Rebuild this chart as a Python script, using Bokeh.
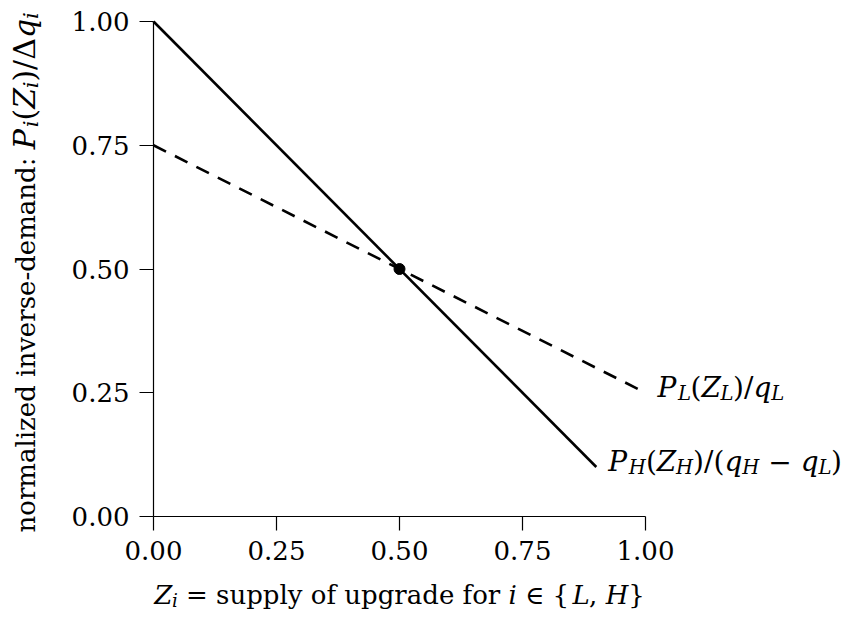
import math
from bokeh.plotting import figure
from bokeh.models import Label, FixedTicker, Range1d
from bokeh.embed import file_html
from bokeh.resources import INLINE

# ---- data ----
z_high = [0.0, 0.9]
p_high = [1.0, 0.1]
z_low = [0.0, 1.0]
p_low = [0.75, 0.25]
eq_z = [0.5]
eq_p = [0.5]
x_ticks = [0.0, 0.25, 0.5, 0.75, 1.0]
y_ticks = [0.0, 0.25, 0.5, 0.75, 1.0]
tick_labels = ["0.00", "0.25", "0.50", "0.75", "1.00"]

FONT = "DejaVu Serif"
TICK_SIZE = 26
LAB_SIZE = 26
MATH_SIZE = 28
YMATH_SIZE = 30

# canvas layout (pixels)
CW, CH = 849, 620
PX_LEFT, PX_RIGHT = 153, 645   # where x=0 and x=1 fall
PX_TOP, PX_BOTTOM = 21, 516    # where y=1 and y=0 fall

x0, x1 = x_ticks[0], x_ticks[-1]
y0, y1 = y_ticks[0], y_ticks[-1]
sx = (PX_RIGHT - PX_LEFT) / (x1 - x0)
sy = (PX_BOTTOM - PX_TOP) / (y1 - y0)
xr = Range1d(x0 - PX_LEFT / sx, x1 + (CW - PX_RIGHT) / sx)
yr = Range1d(y0 - (CH - PX_BOTTOM) / sy, y1 + PX_TOP / sy)

p = figure(width=CW, height=CH, output_backend="svg", toolbar_location=None,
           x_range=xr, y_range=yr,
           min_border_left=0, min_border_right=0, min_border_top=0, min_border_bottom=0)
p.outline_line_color = None
p.grid.visible = False
p.background_fill_color = "white"

for ax, ticks, lo, hi in ((p.xaxis[0], x_ticks, x0, x1), (p.yaxis[0], y_ticks, y0, y1)):
    ax.ticker = FixedTicker(ticks=ticks)
    ax.major_label_overrides = {t: l for t, l in zip(ticks, tick_labels)}
    ax.bounds = (lo, hi)
    ax.minor_tick_line_color = None
    ax.major_tick_in = 0
    ax.major_tick_out = 14
    ax.major_tick_line_width = 1.2
    ax.axis_line_width = 1.2
    ax.axis_line_color = "black"
    ax.major_tick_line_color = "black"
    ax.major_label_text_font = FONT
    ax.major_label_text_font_size = f"{TICK_SIZE}px"
    ax.major_label_text_color = "black"
    ax.major_label_standoff = 10
p.xaxis[0].fixed_location = y0
p.yaxis[0].fixed_location = x0

p.line(z_high, p_high, line_color="black", line_width=2.6)
p.line(z_low, p_low, line_color="black", line_width=2.6, line_dash="14 10")
p.scatter(eq_z, eq_p, size=11, fill_color="black", line_color="black")

W = {' ': 0.318, 'a': 0.596, 'b': 0.640, 'c': 0.560, 'd': 0.640, 'e': 0.592, 'f': 0.370,
     'g': 0.640, 'h': 0.644, 'i': 0.320, 'k': 0.618, 'l': 0.320, 'm': 0.948, 'n': 0.644,
     'o': 0.602, 'p': 0.640, 'q': 0.640, 'r': 0.478, 's': 0.513, 't': 0.402, 'u': 0.644,
     'v': 0.565, 'w': 0.856, 'x': 0.564, 'y': 0.565, 'z': 0.525, ':': 0.337, '-': 0.338,
     '(': 0.390, ')': 0.390, '/': 0.337, '=': 0.838, '{': 0.636, '}': 0.636, ',': 0.318,
     'Δ': 0.722, '∈': 0.871, '−': 0.838, '.': 0.318, 'P': 0.733, 'Z': 0.685, 'L': 0.637,
     'H': 0.872}


def twidth(s, fs):
    return sum(W.get(c, 0.6) for c in s) * fs


def piece_size(kind, size):
    return size * 0.7 if kind == "sub" else size


def pieces_width(pieces):
    return sum(twidth(t, piece_size(k, s)) for t, k, s in pieces)


BASE_FIX = 0.38  # baseline correction (fraction of font size)


def rich(pieces, x, y, dx0, dy0, vertical=False):
    pos = 0.0
    for text, kind, size in pieces:
        fs = piece_size(kind, size)
        shift = size * 0.22 if kind == "sub" else 0.0
        style = "italic" if kind in ("it", "sub") else "normal"
        lead = len(text) - len(text.lstrip(" "))
        pos += twidth(" " * lead, fs)
        body = text.strip(" ")
        if not vertical:
            ox = dx0 + pos
            odown = dy0 + shift - BASE_FIX * size
        else:
            ox = dx0 + shift - BASE_FIX * size
            odown = dy0 - pos
        if body:
            p.add_layout(Label(x=x, y=y, x_offset=ox, y_offset=-odown, text=body,
                               text_font=FONT, text_font_size=f"{fs:.1f}px",
                               text_font_style=style, text_color="black",
                               angle=math.pi / 2 if vertical else 0,
                               text_align="left", text_baseline="alphabetic"))
        pos += twidth(text.lstrip(" "), fs)


L, M, Y = LAB_SIZE, MATH_SIZE, YMATH_SIZE
xlab = [("Z", "it", L), ("i", "sub", L), (" = supply of upgrade for ", "rm", L), ("i", "it", L),
        (" ∈ {", "rm", L), ("L", "it", L), (", ", "rm", L), ("H", "it", L), ("}", "rm", L)]
ylab = [("normalized inverse-demand: ", "rm", L), ("P", "it", Y), ("i", "sub", Y),
        ("(", "rm", Y), ("Z", "it", Y), ("i", "sub", Y), (")/Δ", "rm", Y), ("q", "it", Y),
        ("i", "sub", Y)]
lab_low = [("P", "it", M), ("L", "sub", M), ("(", "rm", M), ("Z", "it", M), ("L", "sub", M),
           (")/", "rm", M), ("q", "it", M), ("L", "sub", M)]
lab_high = [("P", "it", M), ("H", "sub", M), ("(", "rm", M), ("Z", "it", M), ("H", "sub", M),
            (")/(", "rm", M), ("q", "it", M), ("H", "sub", M), (" − ", "rm", M), ("q", "it", M),
            ("L", "sub", M), (")", "rm", M)]

xc = (x0 + x1) / 2
wx = pieces_width(xlab)
rich(xlab, xc, y0, -wx / 2, 88)
rich(ylab, x0, y0, -118, 16, vertical=True)
rich(lab_low, z_low[-1], p_low[-1], 12, 5)
rich(lab_high, z_high[-1], p_high[-1], 12, 5)

open("out.html", "w").write(file_html(p, INLINE))
